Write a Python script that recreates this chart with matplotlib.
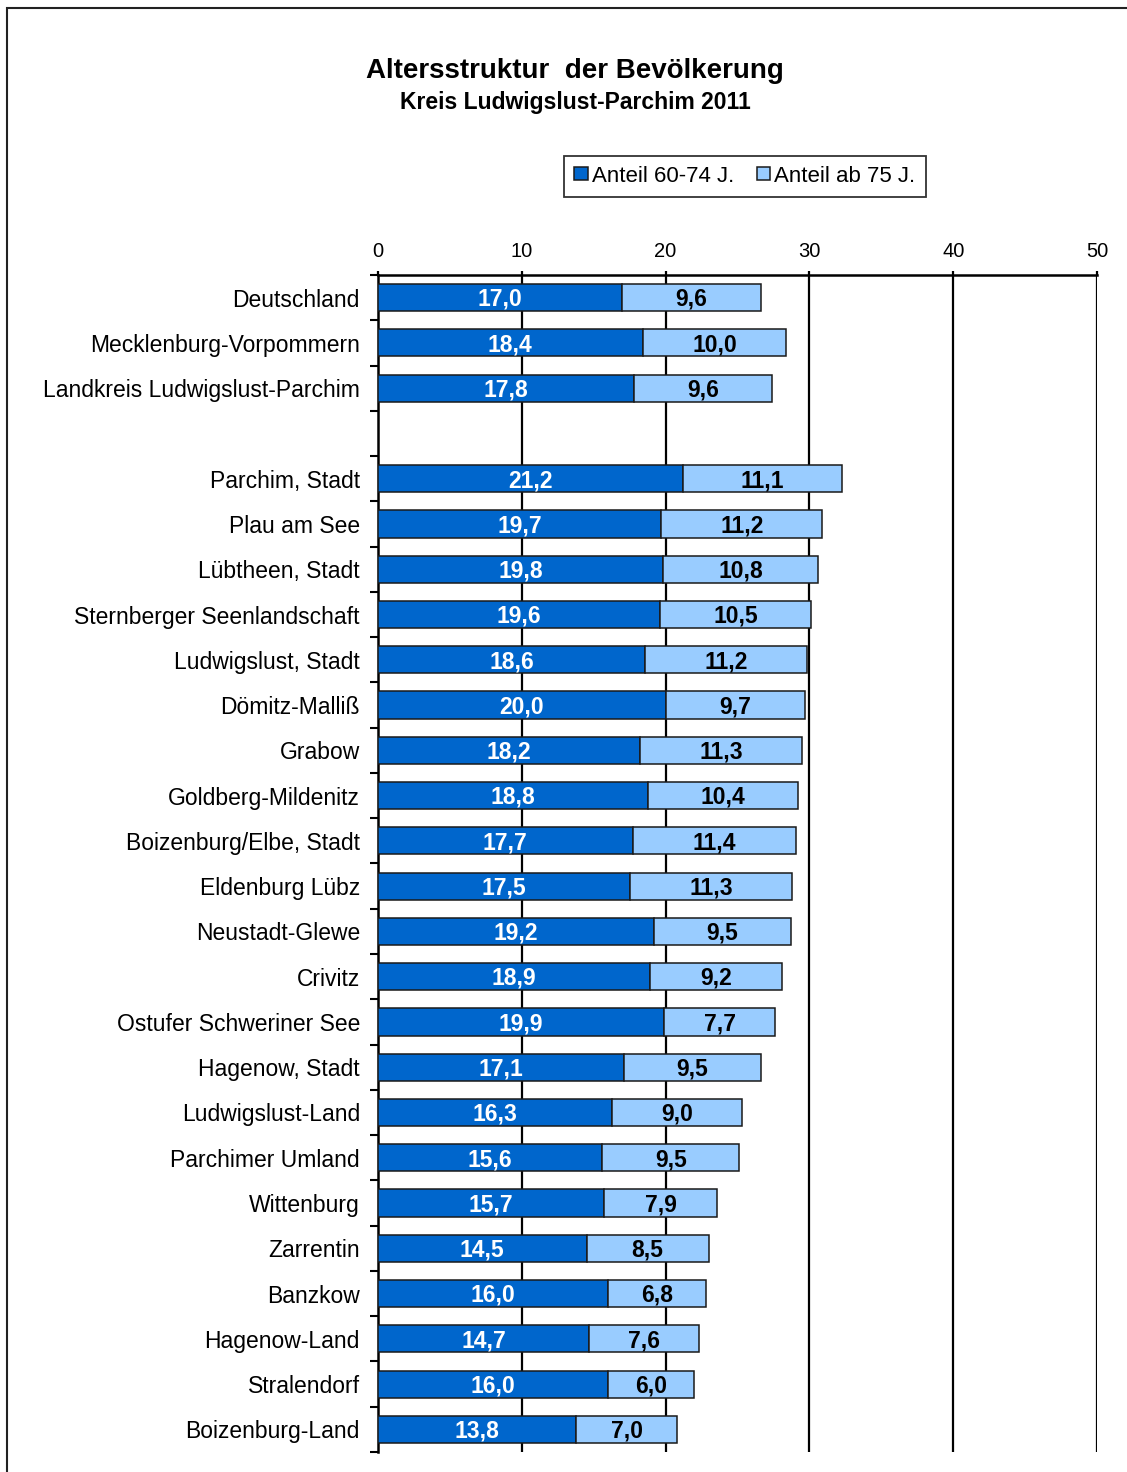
import matplotlib.pyplot as plt
from matplotlib.patches import Rectangle
import numpy as np

plt.rcParams['font.family'] = ['Liberation Sans', 'DejaVu Sans']

W, H = 1127, 1472

categories = [
    'Deutschland', 'Mecklenburg-Vorpommern', 'Landkreis Ludwigslust-Parchim', '',
    'Parchim, Stadt', 'Plau am See', 'Lübtheen, Stadt', 'Sternberger Seenlandschaft',
    'Ludwigslust, Stadt', 'Dömitz-Malliß', 'Grabow', 'Goldberg-Mildenitz',
    'Boizenburg/Elbe, Stadt', 'Eldenburg Lübz', 'Neustadt-Glewe', 'Crivitz',
    'Ostufer Schweriner See', 'Hagenow, Stadt', 'Ludwigslust-Land', 'Parchimer Umland',
    'Wittenburg', 'Zarrentin', 'Banzkow', 'Hagenow-Land', 'Stralendorf', 'Boizenburg-Land',
]
anteil_60_74 = [17.0, 18.4, 17.8, np.nan,
                21.2, 19.7, 19.8, 19.6, 18.6, 20.0, 18.2, 18.8, 17.7, 17.5, 19.2,
                18.9, 19.9, 17.1, 16.3, 15.6, 15.7, 14.5, 16.0, 14.7, 16.0, 13.8]
anteil_ab_75 = [9.6, 10.0, 9.6, np.nan,
                11.1, 11.2, 10.8, 10.5, 11.2, 9.7, 11.3, 10.4, 11.4, 11.3, 9.5,
                9.2, 7.7, 9.5, 9.0, 9.5, 7.9, 8.5, 6.8, 7.6, 6.0, 7.0]
series_names = ['Anteil 60-74 J.', 'Anteil ab 75 J.']
x_ticks = [0, 10, 20, 30, 40, 50]

DARK = '#0066CC'
LIGHT = '#99CCFF'
EDGE = '#1a1a1a'

fig = plt.figure(figsize=(W / 100, H / 100), dpi=100)
ax = fig.add_axes([378 / W, 1 - 1452 / H, (1097 - 378) / W, (1452 - 275) / H])

y = np.arange(len(categories))
a = np.array(anteil_60_74)
b = np.array(anteil_ab_75)

# grid first so bars sit on top
for t in x_ticks[1:]:
    ax.axvline(t, color='black', lw=1.6, zorder=1)

bars1 = ax.barh(y, a, height=0.6, color=DARK, edgecolor=EDGE, lw=1.1,
                label=series_names[0], zorder=3)
bars2 = ax.barh(y, b, left=a, height=0.6, color=LIGHT, edgecolor=EDGE, lw=1.1,
                label=series_names[1], zorder=3)

for i in range(len(categories)):
    if np.isnan(a[i]):
        continue
    ax.text(a[i] / 2, y[i] + 0.04, f'{a[i]:.1f}'.replace('.', ','), ha='center', va='center',
            color='white', fontsize=16.5, fontweight='bold', zorder=4)
    ax.text(a[i] + b[i] / 2, y[i] + 0.04, f'{b[i]:.1f}'.replace('.', ','), ha='center', va='center',
            color='black', fontsize=16.5, fontweight='bold', zorder=4)

ax.set_xlim(0, 50)
ax.set_ylim(len(categories) - 0.5, -0.5)

ax.xaxis.tick_top()
ax.set_xticks(x_ticks)
ax.tick_params(axis='x', direction='out', length=3, width=1.6, pad=7, labelsize=14.5)

ax.set_yticks(y)
ax.set_yticklabels(categories, fontsize=16.5)
ax.tick_params(axis='y', which='major', length=0, pad=13)
ax.set_yticks(np.arange(len(categories) + 1) - 0.5, minor=True)
ax.tick_params(axis='y', which='minor', direction='out', length=6, width=1.5)

for s in ['right', 'bottom']:
    ax.spines[s].set_visible(False)
ax.spines['top'].set_linewidth(1.8)
ax.spines['left'].set_linewidth(1.8)

fig.text(575 / W, 1 - 71 / H, 'Altersstruktur  der Bevölkerung', ha='center', va='center',
         fontsize=20, fontweight='bold')
fig.text(575 / W, 1 - 103 / H, 'Kreis Ludwigslust-Parchim 2011', ha='center', va='center',
         fontsize=16.5, fontweight='bold')

leg = fig.legend(handles=[bars1, bars2], loc='center', bbox_to_anchor=(745 / W, 1 - 176 / H),
                 ncol=2, fontsize=16, frameon=True, fancybox=False, edgecolor='black',
                 handlelength=0.6, handleheight=0.5, handletextpad=0.2, columnspacing=1.0,
                 borderpad=0.45, borderaxespad=0)
leg.get_frame().set_linewidth(1.3)

# outer chart frame
fig.patches.append(Rectangle((7 / W, -0.1), 1.2, 1.1 - 8 / H, transform=fig.transFigure,
                             fill=False, edgecolor='#222222', lw=1.5))

fig.savefig('out.png', dpi=100)
